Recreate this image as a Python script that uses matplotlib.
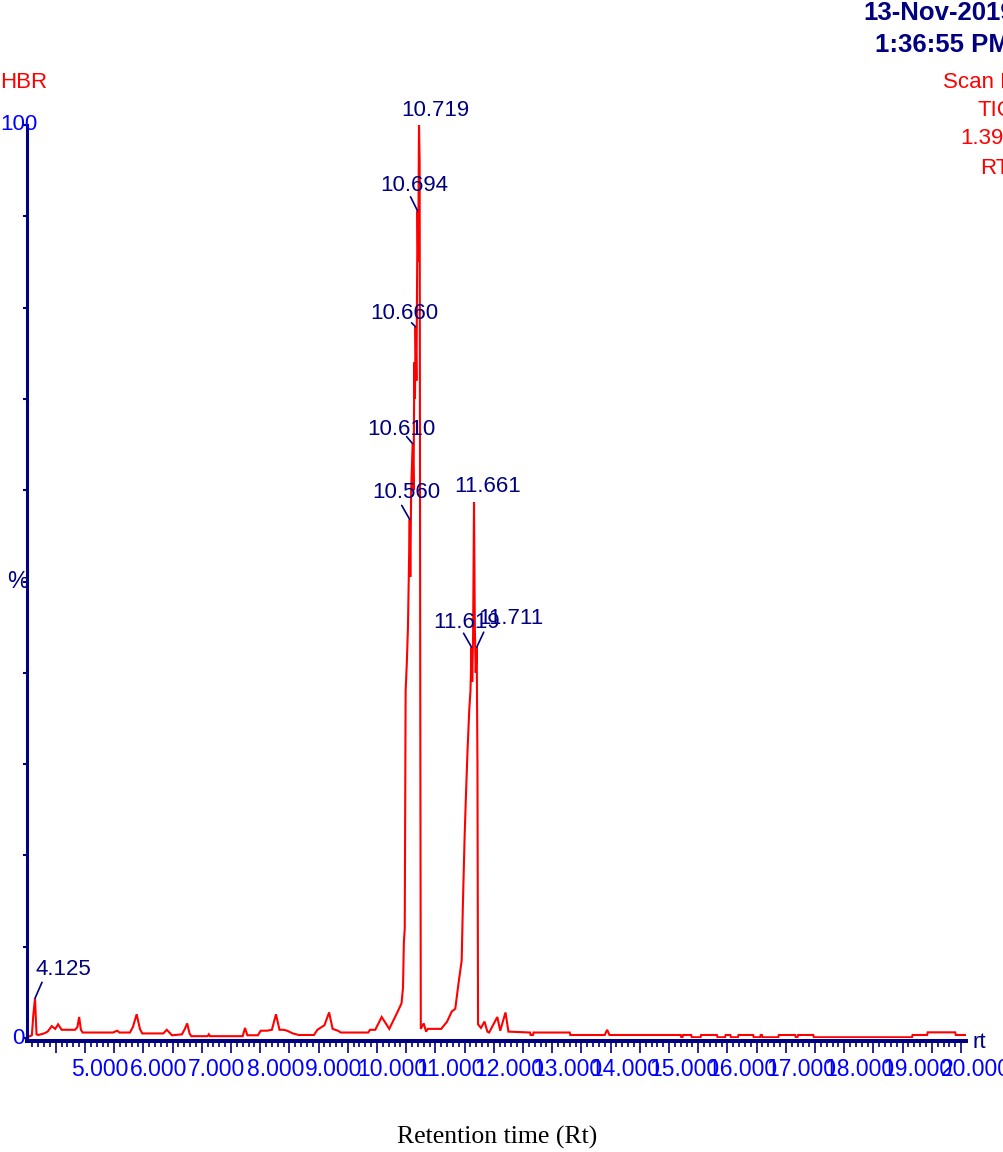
import matplotlib.pyplot as plt
from matplotlib.ticker import MultipleLocator, FuncFormatter
from matplotlib.transforms import ScaledTranslation, blended_transform_factory

# TIC chromatogram, retention time (min) vs relative intensity (%)
rt = [4.02, 4.09, 4.115, 4.144, 4.17, 4.20, 4.30, 4.36, 4.43, 4.49, 4.54, 4.60,
      4.83, 4.87, 4.90, 4.93, 4.96, 5.48, 5.55, 5.59, 5.77, 5.82, 5.885, 5.94,
      5.98, 6.34, 6.40, 6.49, 6.66, 6.71, 6.75, 6.79, 6.82, 7.10, 7.12, 7.14,
      7.70, 7.74, 7.78, 7.96, 8.01, 8.12, 8.20, 8.27, 8.33, 8.40, 8.46, 8.56,
      8.66, 8.92, 8.98, 9.10, 9.18, 9.24, 9.33, 9.38, 9.85, 9.88, 9.97, 10.08,
      10.21, 10.34, 10.42, 10.445, 10.46, 10.475, 10.49, 10.51, 10.53, 10.545,
      10.56, 10.57, 10.585, 10.61, 10.625, 10.64, 10.65, 10.66, 10.675, 10.685,
      10.694, 10.705, 10.719, 10.73, 10.74, 10.75, 10.80, 10.84, 10.87, 11.10,
      11.20, 11.28, 11.34, 11.40, 11.45, 11.47, 11.50, 11.52, 11.55, 11.58,
      11.60, 11.619, 11.63, 11.645, 11.661, 11.675, 11.69, 11.707, 11.72, 11.73,
      11.78, 11.84, 11.89, 11.92, 12.06, 12.11, 12.20, 12.25, 12.62, 12.63,
      12.67, 12.68, 13.30, 13.31, 13.90, 13.94, 13.98, 15.20, 15.21, 15.23,
      15.24, 15.38, 15.39, 15.54, 15.55, 15.82, 15.83, 15.96, 15.97, 16.05,
      16.06, 16.18, 16.19, 16.44, 16.45, 16.56, 16.57, 16.59, 16.60, 16.87,
      16.88, 17.16, 17.17, 17.20, 17.21, 17.47, 17.48, 19.16, 19.17, 19.42,
      19.43, 19.90, 19.91, 20.08]
intensity = [0.1, 0.3, 2.5, 4.35, 0.4, 0.33, 0.5, 0.7, 1.3, 1.0, 1.5, 0.9,
             0.9, 1.2, 2.3, 0.9, 0.6, 0.6, 0.8, 0.6, 0.6, 1.2, 2.6, 1.0,
             0.5, 0.5, 0.9, 0.3, 0.4, 1.0, 1.6, 0.5, 0.2, 0.2, 0.4, 0.2,
             0.2, 1.1, 0.3, 0.3, 0.8, 0.8, 0.9, 2.6, 0.9, 0.9, 0.8, 0.5,
             0.33, 0.33, 0.9, 1.4, 2.8, 1.0, 0.8, 0.6, 0.6, 0.9, 0.9, 2.3,
             1.0, 2.7, 3.8, 5.5, 10.5, 12.0, 38.0, 41.0, 45.0, 51.0,
             56.8, 50.5, 60.0, 65.1, 60.0, 74.0, 70.0, 77.9, 72.0, 82.0,
             90.6, 85.0, 100.0, 96.0, 40.0, 1.0, 1.6, 0.7, 1.0, 1.0,
             1.8, 2.9, 3.2, 6.2, 8.5, 14.5, 22.0, 26.0, 31.5, 36.0,
             38.0, 42.8, 39.0, 44.0, 58.7, 45.0, 40.0, 42.8, 30.0, 1.5,
             1.1, 1.8, 0.7, 0.6, 2.3, 0.8, 2.8, 0.7, 0.6, 0.33,
             0.33, 0.6, 0.6, 0.33, 0.33, 0.9, 0.33, 0.33, 0.08, 0.08,
             0.33, 0.33, 0.08, 0.08, 0.33, 0.33, 0.08, 0.08, 0.33, 0.33,
             0.08, 0.08, 0.33, 0.33, 0.08, 0.08, 0.33, 0.33, 0.08, 0.08,
             0.33, 0.33, 0.08, 0.08, 0.33, 0.33, 0.08, 0.08, 0.33, 0.33,
             0.62, 0.62, 0.33, 0.33]

peak_labels = ["4.125", "10.560", "10.610", "10.660", "10.694", "10.719",
               "11.619", "11.661", "11.711"]
peak_rt = [4.144, 10.56, 10.61, 10.66, 10.694, 10.719, 11.619, 11.661, 11.707]
peak_height = [4.35, 56.8, 65.1, 77.9, 90.6, 100.0, 42.8, 58.7, 42.8]

# label offsets and leader ends in pixels (x right, y up)
label_offset = [(28, 29), (-3, 27), (-11, 14), (-11, 13), (-3, 25), (16, 15),
                (-5, 25), (14, 16), (34, 29)]
leader_end = [(7, 16), (-8, 14), (-6, 7), (-4, 4), (-7, 14), None,
              (-8, 14), None, (7, 15)]

navy = "#000080"
blue = "#0000ff"
red = "#ff0000"
plt.rcParams['font.family'] = ['Liberation Sans', 'DejaVu Sans']

W, H = 1004, 1152
fig = plt.figure(figsize=(W / 100, H / 100), dpi=100)
ax = fig.add_axes([27 / W, 114 / H, 939 / W, 913 / H])

ax.plot(rt, intensity, color=red, lw=1.5, solid_joinstyle='miter')

ax.set_xlim(4.007, 20.085)
ax.set_ylim(0, 100)

for s in ["top", "right"]:
    ax.spines[s].set_visible(False)
ax.spines["left"].set_color(navy)
ax.spines["left"].set_linewidth(2.2)
ax.spines["bottom"].set_color(navy)
ax.spines["bottom"].set_linewidth(2.9)
ax.spines["bottom"].set_position(("outward", 2.5))

ax.xaxis.set_major_locator(MultipleLocator(0.5))
ax.xaxis.set_minor_locator(MultipleLocator(0.1))
ax.xaxis.set_major_formatter(FuncFormatter(
    lambda v, p: f"{v:.3f}" if abs(v - round(v)) < 1e-6 else ""))
ax.tick_params(axis="x", which="major", direction="out", length=8.5, width=1.2,
               color=navy, labelcolor=blue, labelsize=16.5, pad=3.5)
ax.tick_params(axis="x", which="minor", direction="out", length=4.3, width=1.2,
               color=navy)
shift = ScaledTranslation(15 / 100, 0, fig.dpi_scale_trans)
for lab in ax.get_xticklabels():
    lab.set_transform(lab.get_transform() + shift)

ax.set_yticks(range(0, 101, 10))
ax.set_yticklabels([])
ax.tick_params(axis="y", direction="out", length=3, width=1.5, color=navy)

ylab = blended_transform_factory(fig.transFigure, ax.transData)
ax.text(0 / W, 100, "100", transform=ylab, ha="left", va="center",
        color=blue, fontsize=16)
ax.text(25 / W, 0, "0", transform=ylab, ha="right", va="center",
        color=blue, fontsize=16)
ax.text(18 / W, 50, "%", transform=ylab, ha="center", va="center",
        color=navy, fontsize=17)

# peak annotations
for lab, t, h, off, lead in zip(peak_labels, peak_rt, peak_height,
                                label_offset, leader_end):
    ax.annotate(lab, xy=(t, h), xytext=off, textcoords="offset pixels",
                ha="center", va="center", color=navy, fontsize=16)
    if lead is not None:
        ax.annotate("", xy=(t, h), xytext=lead, textcoords="offset pixels",
                    arrowprops=dict(arrowstyle="-", color=navy, lw=1.2,
                                    shrinkA=0, shrinkB=0))

def ftext(x, y, s, **kw):
    fig.text(x / W, 1 - y / H, s, va="center", **kw)

ftext(863, 13, "13-Nov-2019", color=navy, fontsize=18.5, fontweight="bold")
ftext(875, 45, "1:36:55 PM", color=navy, fontsize=18.5, fontweight="bold")
ftext(0, 82, "HBR", color=red, fontsize=16)
ftext(943, 82, "Scan ES+", color=red, fontsize=16)
ftext(978, 110, "TIC", color=red, fontsize=16)
ftext(960, 139, "1.39e9", color=red, fontsize=16)
ftext(980, 168, "RT", color=red, fontsize=16)
ftext(973, 1042, "rt", color=navy, fontsize=16)
fig.text(497 / W, 1 - 1137 / H, "Retention time (Rt)", ha="center", va="center",
         color="black", fontsize=18.5, family="Liberation Serif")

fig.savefig("out.png", dpi=100)
